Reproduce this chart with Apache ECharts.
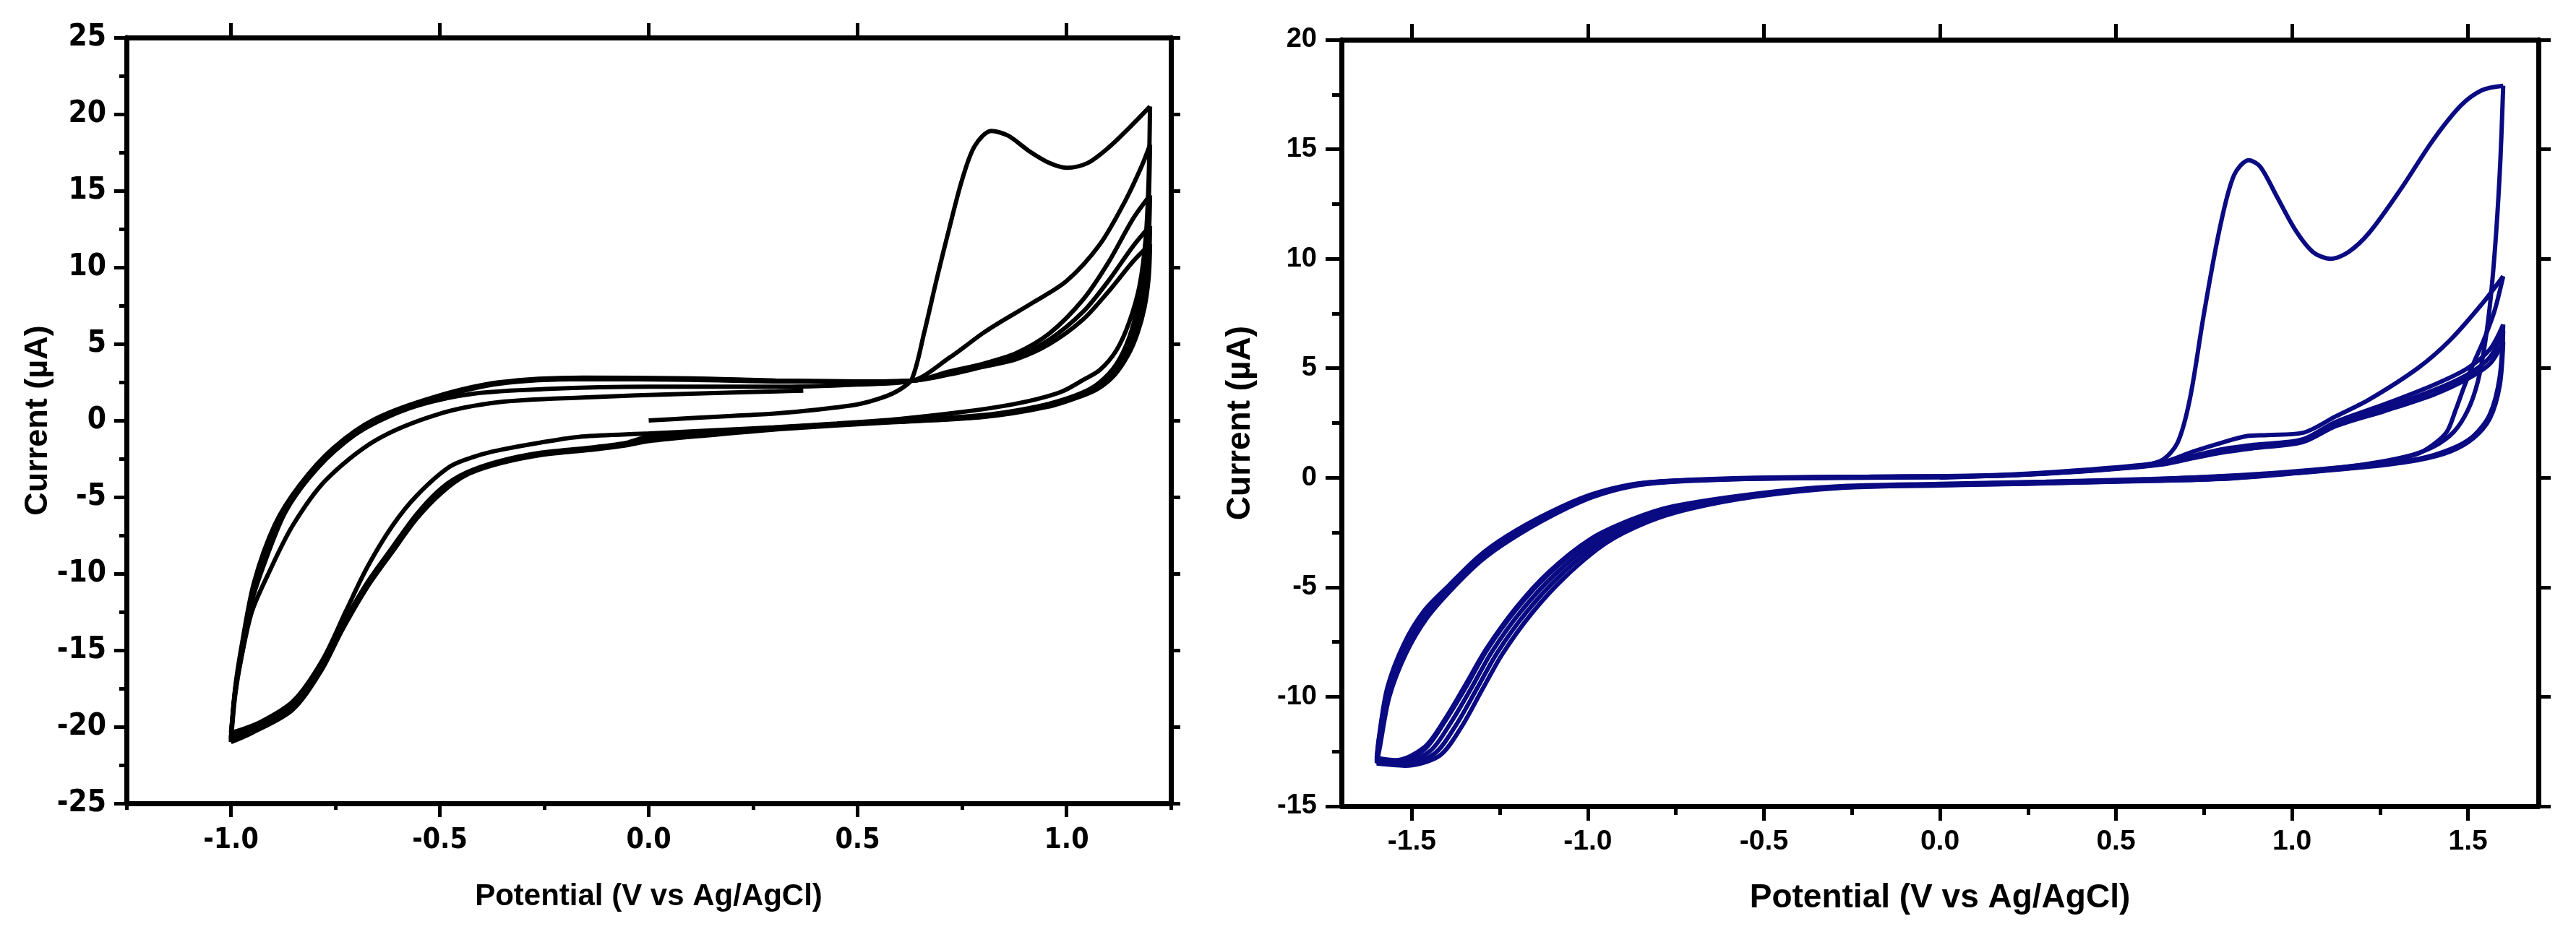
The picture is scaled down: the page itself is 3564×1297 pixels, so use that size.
<!DOCTYPE html>
<html>
<head>
<meta charset="utf-8">
<title>CV curves</title>
<style>
  * { margin: 0; padding: 0; }
  body { background: #fff; }
  #main { width: 3564px; height: 1297px; }
</style>
</head>
<body>
<div id="main"></div>
<script src="https://cdn.jsdelivr.net/npm/echarts@6/dist/echarts.min.js"></script>
<script>
// ---- left panel: potential (V) / current (uA) ----
var leftXTicks = [-1.0, -0.5, 0.0, 0.5, 1.0];
var leftXMinor = [-1.25, -0.75, -0.25, 0.25, 0.75, 1.25];
var leftYTicks = [-25, -20, -15, -10, -5, 0, 5, 10, 15, 20, 25];
var leftYMinor = [-22.5, -17.5, -12.5, -7.5, -2.5, 2.5, 7.5, 12.5, 17.5, 22.5];

var leftScan0 = [[0.0,0.0],[0.1,0.15],[0.2,0.3],[0.3,0.45],[0.4,0.7],[0.5,1.05],[0.56,1.5],[0.6,2.0],[0.63,2.7],[0.66,5.8],[0.69,9.3],[0.72,12.6],[0.75,15.7],[0.78,17.9],[0.82,18.9],[0.86,18.6],[0.91,17.6],[0.96,16.8],[1.0,16.5],[1.05,16.8],[1.1,17.8],[1.15,19.1],[1.2,20.5]];
var leftCath1 = [[1.2,20.5],[1.197,16],[1.19,12],[1.175,8.8],[1.15,6.4],[1.12,4.6],[1.08,3.3],[1.037,2.6],[0.99,1.9],[0.93,1.4],[0.85,0.95],[0.75,0.55],[0.6,0.1],[0.45,-0.2],[0.3,-0.45],[0.15,-0.65],[0.0,-0.85],[-0.16,-1.05],[-0.26,-1.45],[-0.36,-1.95],[-0.41,-2.3],[-0.475,-3.0],[-0.555,-4.9],[-0.614,-6.9],[-0.674,-9.6],[-0.724,-12.4],[-0.78,-15.6],[-0.85,-18.3],[-0.93,-19.7],[-1.0,-20.4]];
var leftAnod1 = [[-1.0,-20.4],[-0.99,-17.8],[-0.975,-15.2],[-0.95,-11.8],[-0.91,-8.6],[-0.87,-6.0],[-0.81,-3.6],[-0.74,-1.6],[-0.65,-0.1],[-0.55,1.0],[-0.42,1.75],[-0.25,2.05],[0.0,2.2],[0.3,2.2],[0.5,2.35],[0.632,2.6],[0.72,4.1],[0.8,5.7],[0.84,6.4],[0.92,7.7],[1.0,9.1],[1.08,11.5],[1.14,14.3],[1.18,16.6],[1.2,18.0]];
var leftCath2 = [[1.2,18.0],[1.196,13.5],[1.188,10.2],[1.172,7.6],[1.15,5.4],[1.12,3.7],[1.08,2.5],[1.037,1.8],[0.96,1.1],[0.88,0.65],[0.8,0.35],[0.65,0.05],[0.5,-0.15],[0.32,-0.45],[0.15,-0.75],[0.0,-1.05],[-0.06,-1.5],[-0.15,-1.8],[-0.257,-2.1],[-0.356,-2.65],[-0.436,-3.4],[-0.495,-4.4],[-0.555,-6.1],[-0.614,-8.3],[-0.674,-10.6],[-0.734,-13.4],[-0.783,-16.0],[-0.853,-18.6],[-0.95,-20.1],[-1.0,-20.7]];
var leftAnod2 = [[-1.0,-20.7],[-0.99,-17.5],[-0.975,-14.8],[-0.945,-10.6],[-0.895,-6.8],[-0.835,-4.2],[-0.755,-1.8],[-0.655,0.1],[-0.505,1.6],[-0.356,2.5],[-0.158,2.8],[0.1,2.75],[0.307,2.6],[0.5,2.55],[0.632,2.6],[0.72,3.2],[0.8,3.7],[0.88,4.4],[0.96,5.7],[1.04,7.9],[1.1,10.3],[1.16,13.2],[1.2,14.7]];
var leftCath3 = [[1.2,14.7],[1.196,11.5],[1.185,8.8],[1.165,6.4],[1.14,4.6],[1.11,3.2],[1.077,2.3],[1.037,1.7],[0.957,1.0],[0.8,0.27],[0.56,-0.09],[0.32,-0.45],[0.15,-0.8],[0.0,-1.15],[-0.06,-1.55],[-0.15,-1.85],[-0.257,-2.15],[-0.356,-2.7],[-0.436,-3.45],[-0.495,-4.5],[-0.555,-6.2],[-0.614,-8.4],[-0.674,-10.7],[-0.734,-13.5],[-0.783,-16.1],[-0.853,-18.7],[-0.95,-20.2],[-1.0,-20.8]];
var leftAnod3 = [[-1.0,-20.8],[-0.99,-17.6],[-0.973,-14.9],[-0.943,-10.7],[-0.893,-6.9],[-0.833,-4.3],[-0.753,-1.9],[-0.654,0.0],[-0.505,1.5],[-0.356,2.45],[-0.158,2.75],[0.1,2.7],[0.307,2.6],[0.5,2.55],[0.632,2.6],[0.72,3.1],[0.8,3.6],[0.88,4.2],[0.96,5.3],[1.04,7.1],[1.1,9.1],[1.16,11.4],[1.2,12.7]];
var leftCath4 = [[1.2,12.7],[1.197,10.2],[1.188,8.0],[1.17,6.0],[1.148,4.5],[1.116,3.2],[1.077,2.2],[1.037,1.65],[0.957,0.95],[0.8,0.25],[0.56,-0.12],[0.32,-0.5],[0.15,-0.9],[0.0,-1.3],[-0.06,-1.6],[-0.15,-1.9],[-0.257,-2.2],[-0.356,-2.75],[-0.436,-3.5],[-0.495,-4.6],[-0.555,-6.3],[-0.614,-8.5],[-0.674,-10.8],[-0.734,-13.6],[-0.783,-16.2],[-0.853,-18.8],[-0.95,-20.3],[-1.0,-20.9]];
var leftAnod4 = [[-1.0,-20.9],[-0.99,-17.7],[-0.972,-15.0],[-0.942,-10.8],[-0.892,-7.0],[-0.832,-4.4],[-0.752,-2.0],[-0.653,-0.1],[-0.505,1.45],[-0.356,2.4],[-0.158,2.7],[0.1,2.65],[0.307,2.55],[0.5,2.55],[0.632,2.6],[0.72,3.0],[0.8,3.5],[0.88,4.0],[0.96,5.0],[1.04,6.6],[1.1,8.4],[1.16,10.4],[1.2,11.5]];
var leftCath5 = [[1.2,11.5],[1.197,9.4],[1.187,7.4],[1.17,5.7],[1.148,4.3],[1.116,3.0],[1.077,2.1],[1.037,1.6],[0.957,0.9],[0.8,0.22],[0.56,-0.15],[0.32,-0.55],[0.15,-0.95],[0.0,-1.35],[-0.06,-1.65],[-0.15,-1.95],[-0.257,-2.25],[-0.356,-2.8],[-0.436,-3.55],[-0.495,-4.7],[-0.555,-6.4],[-0.614,-8.6],[-0.674,-10.9],[-0.734,-13.7],[-0.783,-16.3],[-0.853,-18.9],[-0.95,-20.4],[-1.0,-21.0]];
var leftAnod5 = [[-1.0,-21.0],[-0.99,-18.0],[-0.975,-15.5],[-0.95,-12.5],[-0.912,-10.1],[-0.853,-6.9],[-0.773,-3.9],[-0.654,-1.3],[-0.505,0.4],[-0.356,1.2],[-0.158,1.5],[0.1,1.75],[0.307,1.9],[0.37,1.95]];

// ---- right panel ----
var rightXTicks = [-1.5, -1.0, -0.5, 0.0, 0.5, 1.0, 1.5];
var rightXMinor = [-1.25, -0.75, -0.25, 0.25, 0.75, 1.25];
var rightYTicks = [-15, -10, -5, 0, 5, 10, 15, 20];
var rightYMinor = [-12.5, -7.5, -2.5, 2.5, 7.5, 12.5, 17.5];

var rightScan0 = [[0.0,0.0],[0.2,0.12],[0.4,0.3],[0.55,0.5],[0.63,0.8],[0.675,1.6],[0.71,3.6],[0.75,7.5],[0.795,11.4],[0.835,13.8],[0.877,14.5],[0.91,14.2],[0.955,12.9],[1.01,11.3],[1.06,10.3],[1.11,10.0],[1.16,10.3],[1.22,11.2],[1.31,13.2],[1.4,15.4],[1.48,17.0],[1.54,17.7],[1.6,17.9]];
var rightCath1 = [[1.6,17.9],[1.592,14.5],[1.58,11.2],[1.565,8.3],[1.548,6.1],[1.528,4.4],[1.5,3.1],[1.46,2.1],[1.4,1.4],[1.32,0.95],[1.2,0.6],[1.05,0.35],[0.85,0.12],[0.6,-0.06],[0.3,-0.18],[0.0,-0.28],[-0.3,-0.4],[-0.52,-0.72],[-0.757,-1.3],[-0.875,-1.9],[-0.993,-2.8],[-1.111,-4.3],[-1.205,-5.95],[-1.288,-7.8],[-1.346,-9.4],[-1.405,-11.0],[-1.464,-12.3],[-1.547,-12.9],[-1.6,-12.8]];
var rightAnod1 = [[-1.6,-12.8],[-1.594,-11.9],[-1.57,-9.6],[-1.523,-7.6],[-1.464,-6.05],[-1.394,-4.9],[-1.311,-3.6],[-1.229,-2.65],[-1.111,-1.6],[-0.993,-0.78],[-0.875,-0.3],[-0.757,-0.13],[-0.522,0.0],[-0.2,0.05],[0.15,0.12],[0.4,0.35],[0.63,0.7],[0.72,1.2],[0.8,1.6],[0.87,1.9],[0.93,1.95],[1.03,2.05],[1.124,2.8],[1.217,3.55],[1.357,5.0],[1.45,6.3],[1.543,8.0],[1.6,9.2]];
var rightCath2 = [[1.6,9.2],[1.575,7.6],[1.545,6.3],[1.515,5.2],[1.49,4.2],[1.465,3.1],[1.44,2.1],[1.4,1.5],[1.35,1.05],[1.25,0.7],[1.1,0.4],[0.9,0.13],[0.6,-0.07],[0.3,-0.2],[0.0,-0.3],[-0.286,-0.42],[-0.522,-0.77],[-0.757,-1.36],[-0.875,-1.95],[-0.993,-2.88],[-1.111,-4.4],[-1.205,-6.05],[-1.288,-7.9],[-1.346,-9.55],[-1.405,-11.1],[-1.464,-12.4],[-1.547,-13.0],[-1.6,-12.9]];
var rightAnod2 = [[-1.6,-12.9],[-1.594,-12.0],[-1.57,-9.7],[-1.522,-7.7],[-1.463,-6.1],[-1.393,-4.95],[-1.31,-3.65],[-1.228,-2.7],[-1.11,-1.62],[-0.992,-0.8],[-0.874,-0.32],[-0.756,-0.14],[-0.52,-0.02],[-0.2,0.04],[0.15,0.1],[0.4,0.32],[0.63,0.65],[0.72,1.0],[0.8,1.3],[0.89,1.5],[1.03,1.75],[1.124,2.55],[1.264,3.36],[1.403,4.24],[1.497,4.98],[1.562,5.86],[1.6,7.0]];
var rightCath3 = [[1.6,7.0],[1.59,4.6],[1.562,2.9],[1.515,1.9],[1.45,1.3],[1.357,0.85],[1.217,0.56],[1.03,0.27],[0.797,-0.03],[0.5,-0.15],[0.238,-0.25],[0.0,-0.32],[-0.286,-0.43],[-0.522,-0.8],[-0.74,-1.38],[-0.86,-1.98],[-0.978,-2.92],[-1.096,-4.45],[-1.19,-6.1],[-1.273,-7.95],[-1.331,-9.6],[-1.39,-11.2],[-1.45,-12.5],[-1.54,-13.05],[-1.6,-12.95]];
var rightAnod3 = [[-1.6,-12.95],[-1.593,-12.1],[-1.568,-9.8],[-1.52,-7.8],[-1.461,-6.2],[-1.391,-5.0],[-1.308,-3.7],[-1.226,-2.75],[-1.108,-1.65],[-0.99,-0.82],[-0.872,-0.33],[-0.754,-0.15],[-0.52,-0.03],[-0.2,0.03],[0.15,0.09],[0.4,0.3],[0.63,0.62],[0.72,0.95],[0.8,1.22],[0.89,1.42],[1.03,1.68],[1.124,2.45],[1.264,3.2],[1.403,4.0],[1.497,4.7],[1.562,5.5],[1.6,6.7]];
var rightCath4 = [[1.6,6.7],[1.59,4.4],[1.562,2.8],[1.515,1.85],[1.45,1.25],[1.357,0.82],[1.217,0.53],[1.03,0.25],[0.797,-0.05],[0.5,-0.17],[0.238,-0.27],[0.0,-0.34],[-0.286,-0.45],[-0.522,-0.83],[-0.725,-1.4],[-0.845,-2.0],[-0.963,-2.95],[-1.081,-4.5],[-1.175,-6.15],[-1.258,-8.0],[-1.316,-9.65],[-1.375,-11.3],[-1.436,-12.6],[-1.53,-13.1],[-1.6,-13.0]];
var rightAnod4 = [[-1.6,-13.0],[-1.592,-12.2],[-1.566,-9.9],[-1.518,-7.9],[-1.459,-6.3],[-1.389,-5.05],[-1.306,-3.75],[-1.224,-2.8],[-1.106,-1.7],[-0.988,-0.85],[-0.87,-0.35],[-0.752,-0.16],[-0.52,-0.04],[-0.2,0.02],[0.15,0.08],[0.4,0.28],[0.63,0.6],[0.72,0.9],[0.8,1.15],[0.89,1.35],[1.03,1.62],[1.124,2.35],[1.264,3.05],[1.403,3.8],[1.497,4.5],[1.562,5.2],[1.6,6.2]];
var rightCath5 = [[1.6,6.2],[1.59,4.2],[1.562,2.7],[1.515,1.8],[1.45,1.2],[1.357,0.8],[1.217,0.5],[1.03,0.23],[0.797,-0.06],[0.5,-0.18],[0.238,-0.28],[0.0,-0.35],[-0.286,-0.47],[-0.522,-0.86],[-0.71,-1.42],[-0.83,-2.02],[-0.948,-2.98],[-1.066,-4.55],[-1.16,-6.2],[-1.243,-8.05],[-1.301,-9.7],[-1.36,-11.4],[-1.422,-12.7],[-1.52,-13.15],[-1.6,-13.05]];
var rightAnod5 = [[-1.6,-13.05],[-1.591,-12.3],[-1.564,-10.0],[-1.516,-8.0],[-1.457,-6.4],[-1.387,-5.1],[-1.304,-3.8],[-1.222,-2.85],[-1.104,-1.75],[-0.986,-0.88],[-0.868,-0.37],[-0.75,-0.18],[-0.52,-0.05],[-0.2,0.0],[0.0,0.02]];

var leftSweeps = [leftScan0, leftCath1, leftAnod1, leftCath2, leftAnod2, leftCath3, leftAnod3, leftCath4, leftAnod4, leftCath5, leftAnod5];
var rightSweeps = [rightScan0, rightCath1, rightAnod1, rightCath2, rightAnod2, rightCath3, rightAnod3, rightCath4, rightAnod4, rightCath5, rightAnod5];

var NARROW = "'Liberation Sans Narrow', 'DejaVu Sans Condensed', sans-serif";
var SANS = "'Liberation Sans', Arial, sans-serif";

// three x axes and three y axes per panel: major ticks + labels, minor ticks, opposite side
function panelAxes(g, o) {
  var line = { show: true, onZero: false, lineStyle: { color: '#000', width: 7 } };
  var noLine = { show: false, onZero: false };
  var tick = function (vals, len) {
    return { show: true, inside: false, length: len, customValues: vals, lineStyle: { color: '#000', width: 5 } };
  };
  var base = { type: 'value', gridIndex: g, splitLine: { show: false }, axisPointer: { show: false } };
  var xs = [
    Object.assign({}, base, {
      position: 'bottom', min: o.xMin, max: o.xMax,
      axisLine: line, axisTick: tick(o.xMajor, o.majorLen),
      axisLabel: {
        customValues: o.xMajor, margin: o.xLabelMargin, color: '#000',
        fontFamily: o.tickFont, fontWeight: 'bold', fontSize: o.xLabelSize,
        formatter: function (v) { return v.toFixed(1); }
      },
      name: 'Potential (V vs Ag/AgCl)', nameLocation: 'middle', nameGap: o.xNameGap,
      nameTextStyle: { color: '#000', fontFamily: o.xNameFont, fontWeight: 'bold', fontSize: o.xNameSize }
    }),
    Object.assign({}, base, {
      position: 'bottom', min: o.xMin, max: o.xMax,
      axisLine: noLine, axisTick: tick(o.xMinor, o.minorLen), axisLabel: { show: false }
    }),
    Object.assign({}, base, {
      position: 'top', min: o.xMin, max: o.xMax,
      axisLine: line, axisTick: tick(o.xMajor, o.topLen), axisLabel: { show: false }
    })
  ];
  var ys = [
    Object.assign({}, base, {
      position: 'left', min: o.yMin, max: o.yMax,
      axisLine: line, axisTick: tick(o.yMajor, o.yMajorLen),
      axisLabel: {
        customValues: o.yMajor, margin: o.yLabelMargin, color: '#000',
        fontFamily: o.tickFont, fontWeight: 'bold', fontSize: o.yLabelSize
      },
      name: 'Current (\u00b5A)', nameLocation: 'middle', nameGap: o.yNameGap,
      nameTextStyle: { color: '#000', fontFamily: SANS, fontWeight: 'bold', fontSize: o.yNameSize }
    }),
    Object.assign({}, base, {
      position: 'left', min: o.yMin, max: o.yMax,
      axisLine: noLine, axisTick: tick(o.yMinor, o.yMinorLen), axisLabel: { show: false }
    }),
    Object.assign({}, base, {
      position: 'right', min: o.yMin, max: o.yMax,
      axisLine: line, axisTick: tick(o.yMajor, o.rightLen), axisLabel: { show: false }
    })
  ];
  return { x: xs, y: ys };
}

var leftAx = panelAxes(0, {
  xMin: -1.25, xMax: 1.25, xMajor: leftXTicks, xMinor: leftXMinor,
  yMin: -25, yMax: 25, yMajor: leftYTicks, yMinor: leftYMinor,
  majorLen: 19, minorLen: 9, topLen: 20, yMajorLen: 17, yMinorLen: 10, rightLen: 13,
  tickFont: NARROW, xLabelSize: 39, yLabelSize: 42, xLabelMargin: 32, yLabelMargin: 28,
  xNameFont: SANS, xNameSize: 42, xNameGap: 108, yNameSize: 45, yNameGap: 99
});
var rightAx = panelAxes(1, {
  xMin: -1.7, xMax: 1.7, xMajor: rightXTicks, xMinor: rightXMinor,
  yMin: -15, yMax: 20, yMajor: rightYTicks, yMinor: rightYMinor,
  majorLen: 20, minorLen: 12, topLen: 22, yMajorLen: 22, yMinorLen: 13, rightLen: 17,
  tickFont: SANS, xLabelSize: 39, yLabelSize: 38, xLabelMargin: 30, yLabelMargin: 34,
  xNameFont: SANS, xNameSize: 46, xNameGap: 104, yNameSize: 46, yNameGap: 117
});

function sweepSeries(list, axisIndex, color) {
  return list.map(function (d) {
    return {
      type: 'line', xAxisIndex: axisIndex, yAxisIndex: axisIndex, data: d,
      showSymbol: false, smooth: 0.3, silent: true,
      lineStyle: { color: color, width: 6 }
    };
  });
}

var chart = echarts.init(document.getElementById('main'), null, { renderer: 'canvas' });
chart.setOption({
  animation: false,
  backgroundColor: '#ffffff',
  grid: [
    { left: 175, top: 52, width: 1445, height: 1060, outerBoundsMode: 'none' },
    { left: 1856, top: 55, width: 1656, height: 1061, outerBoundsMode: 'none' }
  ],
  xAxis: leftAx.x.concat(rightAx.x),
  yAxis: leftAx.y.concat(rightAx.y),
  series: sweepSeries(leftSweeps, 0, '#000000').concat(sweepSeries(rightSweeps, 3, '#0a0a82'))
});
</script>
</body>
</html>
